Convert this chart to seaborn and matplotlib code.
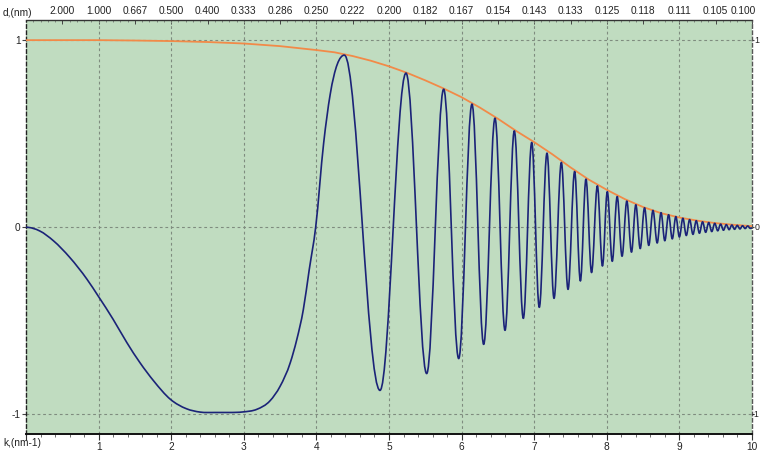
import numpy as np
import matplotlib
matplotlib.use("Agg")
import matplotlib.pyplot as plt
import matplotlib.transforms as mtransforms
import seaborn as sns
import pandas as pd
from matplotlib.path import Path
from matplotlib.patches import PathPatch
from matplotlib.ticker import MultipleLocator

# ---------------- data ----------------
# leading part of the transfer function (k in nm^-1)
k_lead = [0.0, 0.19, 0.38, 0.6, 0.84, 1.0, 1.2, 1.39, 1.57, 1.76, 1.99, 2.21,
          2.4, 2.6, 2.8, 2.99, 3.18, 3.36, 3.5, 3.64, 3.73, 3.82, 3.9, 3.99,
          4.1, 4.19]
ctf_lead = [0.0, -0.02, -0.073, -0.16, -0.278, -0.371, -0.492, -0.617, -0.724,
            -0.822, -0.92, -0.97, -0.988, -0.99, -0.99, -0.987, -0.973, -0.928,
            -0.85, -0.724, -0.6, -0.44, -0.23, 0.0, 0.45, 0.71]

# successive maxima / minima of the oscillating part
k_ext = [4.385, 4.876, 5.234, 5.519, 5.753, 5.96, 6.143, 6.304, 6.46, 6.598,
         6.726, 6.85, 6.966, 7.07, 7.176, 7.273, 7.374, 7.466, 7.557, 7.636,
         7.713, 7.79, 7.87, 7.94, 8.007, 8.075, 8.143, 8.21, 8.276, 8.34,
         8.40, 8.46, 8.52, 8.578, 8.636,
         8.694, 8.747, 8.799, 8.851, 8.902, 8.951, 9.0, 9.048, 9.095, 9.141,
         9.187, 9.232, 9.276, 9.319, 9.362, 9.404, 9.446, 9.487, 9.528, 9.568,
         9.607, 9.646, 9.685, 9.723, 9.760, 9.797, 9.834, 9.870, 9.906, 9.941,
         9.976, 10.0]
ctf_ext = [0.92, -0.872, 0.824, -0.782, 0.738, -0.702, 0.658, -0.626, 0.583,
           -0.551, 0.515, -0.487, 0.453, -0.428, 0.396, -0.38, 0.346, -0.332,
           0.298, -0.287, 0.257, -0.242, 0.221, -0.207, 0.19, -0.182, 0.164,
           -0.155, 0.14, -0.133, 0.12, -0.114, 0.104, -0.097, 0.09,
           -0.084, 0.078, -0.072, 0.067, -0.062, 0.057, -0.052, 0.048, -0.044,
           0.041, -0.038, 0.035, -0.032, 0.029, -0.027, 0.025, -0.023, 0.021,
           -0.019, 0.017, -0.016, 0.014, -0.013, 0.012, -0.011, 0.010, -0.009,
           0.008, -0.007, 0.007, -0.006, -0.004]

# damping envelope
env_k = [0, 0.5, 1.0, 1.5, 2.0, 2.5, 3.0, 3.5, 4.0, 4.25, 4.5, 4.75, 5.0,
         5.25, 5.5, 5.75, 6.0, 6.25, 6.5, 6.75, 7.0, 7.25, 7.5, 7.75, 8.0,
         8.25, 8.5, 8.75, 9.0, 9.25, 9.5, 9.75, 10.0]
env_val = [1.0, 1.0, 1.0, 0.998, 0.995, 0.99, 0.982, 0.968, 0.947, 0.935,
           0.915, 0.89, 0.86, 0.825, 0.785, 0.742, 0.695, 0.64, 0.58, 0.515,
           0.455, 0.39, 0.32, 0.255, 0.2, 0.15, 0.108, 0.075, 0.052, 0.035,
           0.022, 0.013, 0.006]

# axes text
k_ticks = [0, 1, 2, 3, 4, 5, 6, 7, 8, 9, 10]
k_tick_labels = ["", "1", "2", "3", "4", "5", "6", "7", "8", "9", "10"]
d_tick_pos = [0.5, 1.0, 1.5, 2.0, 2.5, 3.0, 3.5, 4.0, 4.5, 5.0, 5.5, 6.0,
              6.5, 7.0, 7.5, 8.0, 8.5, 9.0, 9.5, 10.0]
d_tick_labels = ["2.000", "1.000", "0.667", "0.500", "0.400", "0.333",
                 "0.286", "0.250", "0.222", "0.200", "0.182", "0.167",
                 "0.154", "0.143", "0.133", "0.125", "0.118", "0.111",
                 "0.105", "0.100"]
y_ticks = [-1, 0, 1]
y_tick_labels = ["-1", "0", "1"]

# ---------------- style ----------------
sns.set_style("ticks")
plt.rcParams["font.family"] = ["Liberation Sans", "DejaVu Sans"]

BG = "#C0DCC0"
NAVY = "#1b2378"
ORANGE = "#f28a48"
GRID = "#7f8c7f"

fig = plt.figure(figsize=(7.6, 4.51), dpi=100)
fig.patch.set_facecolor("white")
ax = fig.add_axes([26 / 760, 1 - 434 / 451, (752 - 26) / 760, (434 - 20.5) / 451])
ax.set_facecolor(BG)

# envelope
env_df = pd.DataFrame({"k": env_k, "E": env_val})
sns.lineplot(data=env_df, x="k", y="E", ax=ax, color=ORANGE, lw=1.3,
             zorder=3, legend=False)

# transfer function: smooth Bezier path through the read nodes
kx = list(k_lead) + list(k_ext)
cy = list(ctf_lead) + list(ctf_ext)
n = len(kx)
m = []
for i in range(n):
    if i == 0 or i == n - 1:
        m.append(0.0)
        continue
    a, b, c = cy[i - 1], cy[i], cy[i + 1]
    if (b >= a and b >= c) or (b <= a and b <= c):
        m.append(0.0)
    else:
        h0 = kx[i] - kx[i - 1]
        h1 = kx[i + 1] - kx[i]
        d0 = (b - a) / h0
        d1 = (c - b) / h1
        m.append((h1 * d0 + h0 * d1) / (h0 + h1))
verts = [(kx[0], cy[0])]
codes = [Path.MOVETO]
for i in range(n - 1):
    h = kx[i + 1] - kx[i]
    cfac = 0.36 if (m[i] == 0.0 and m[i + 1] == 0.0) else 1 / 3
    verts += [(kx[i] + cfac * h, cy[i] + m[i] * h / 3),
              (kx[i + 1] - cfac * h, cy[i + 1] - m[i + 1] * h / 3),
              (kx[i + 1], cy[i + 1])]
    codes += [Path.CURVE4] * 3
ax.add_patch(PathPatch(Path(verts, codes), facecolor="none", edgecolor=NAVY,
                       lw=1.2, zorder=4, capstyle="round", joinstyle="round"))

ax.set_xlim(0, 10)
ax.set_ylim(-1.105, 1.105)
ax.set_xlabel("")
ax.set_ylabel("")

# grid
for xv in k_ticks[1:-1]:
    ax.axvline(xv, color=GRID, lw=0.8, ls=(0, (2.5, 2.5)), zorder=1)
for yv in y_ticks:
    ax.axhline(yv, color=GRID, lw=0.8, ls=(0, (2.5, 2.5)), zorder=1)

# spines
ax.spines["bottom"].set_color("#111111")
ax.spines["bottom"].set_linewidth(1.4)
ax.spines["left"].set_color("#222222")
ax.spines["left"].set_linewidth(1.0)
ax.spines["left"].set_linestyle((0, (2.5, 2)))
ax.spines["right"].set_color("#555555")
ax.spines["right"].set_linewidth(1.0)
ax.spines["right"].set_linestyle((0, (2.5, 2)))
ax.spines["top"].set_visible(False)

FS = 7.3
ax.set_xticks(k_ticks, labels=k_tick_labels)
ax.xaxis.set_minor_locator(MultipleLocator(0.2))
ax.tick_params(axis="x", which="major", direction="out", length=4, width=0.8,
               colors="#333333", labelsize=FS, labelcolor="#222222", pad=1.5)
ax.tick_params(axis="x", which="minor", direction="out", length=2, width=0.6,
               colors="#555555")
ax.set_yticks(y_ticks, labels=y_tick_labels)
ax.tick_params(axis="y", which="major", direction="out", length=3, width=0.8,
               colors="#444444", labelsize=FS, labelcolor="#222222", pad=1,
               left=True, labelleft=True, right=True, labelright=False)
for t in ax.yaxis.get_major_ticks():
    t.tick2line.set_markersize(1.5)

# right-hand labels sit tight against the frame, as in the reference
for yv, lab in zip(y_ticks, y_tick_labels):
    ax.annotate(lab, xy=(1.0, yv), xycoords=("axes fraction", "data"),
                xytext=(5.3, 0), textcoords="offset points", fontsize=6.3,
                color="#222222", ha="right", va="center",
                annotation_clip=False, zorder=6)

top = ax.secondary_xaxis("top")
top.set_xticks(d_tick_pos, labels=d_tick_labels)
top.xaxis.set_minor_locator(MultipleLocator(0.1))
top.tick_params(axis="x", which="major", direction="in", length=3, width=0.7,
                colors="#444444", labelsize=FS, labelcolor="#222222", pad=3)
top.tick_params(axis="x", which="minor", direction="in", length=1.5,
                width=0.5, colors="#666666")
top.spines["top"].set_color("#333333")
top.spines["top"].set_linewidth(1.0)
# keep the last d label inside the canvas
last = top.xaxis.get_ticklabels()[-1]
last.set_transform(last.get_transform() +
                   mtransforms.ScaledTranslation(-9 / 100, 0, fig.dpi_scale_trans))

fig.text(3 / 760, 1 - 12.5 / 451, "d,(nm)", fontsize=FS, color="#222222",
         ha="left", va="center")
fig.text(3 / 760, 1 - 442.5 / 451, "k,(nm-1)", fontsize=FS, color="#222222",
         ha="left", va="center")

fig.savefig("out.png", dpi=100, facecolor="white")
